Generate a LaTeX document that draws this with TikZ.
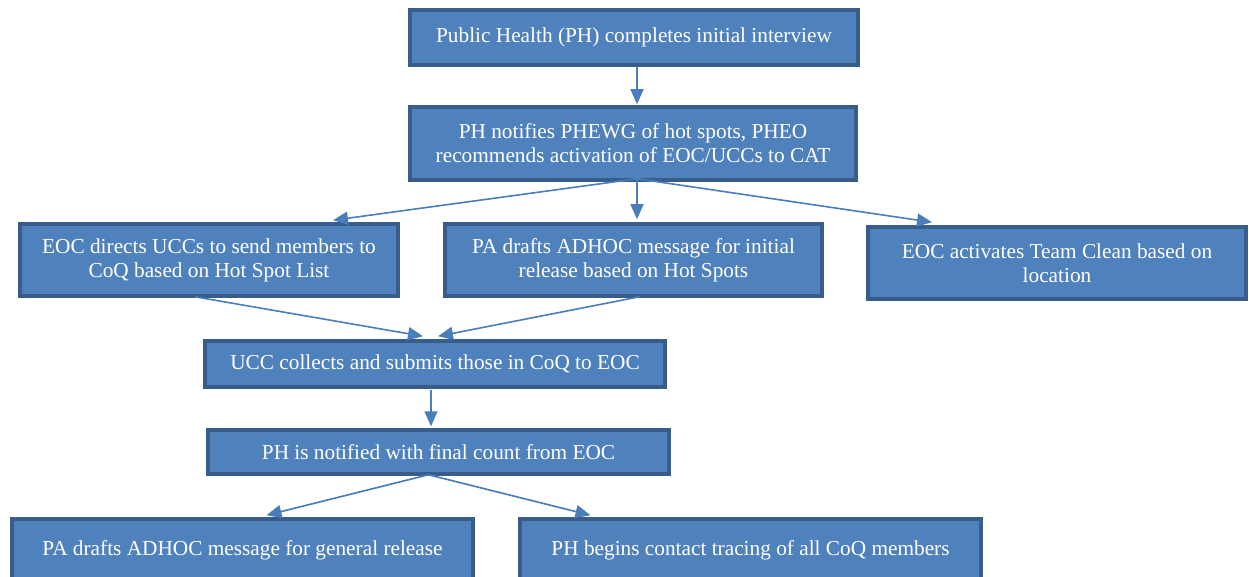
\documentclass[tikz,border=0pt]{standalone}
\usepackage{fontspec}
\setmainfont{Liberation Serif}
\usetikzlibrary{arrows.meta,calc}
\definecolor{boxfill}{HTML}{4F81BD}
\definecolor{boxline}{HTML}{385D8A}
\definecolor{arrowc}{HTML}{4A7EBB}
\tikzset{
  flowbox/.style={rectangle, draw=boxline, fill=boxfill, line width=3.5pt,
    text=white, inner sep=0pt, align=center, anchor=center,
    font=\fontsize{21.3}{24}\selectfont},
  arr/.style={draw=arrowc, line width=1.6pt, -{Triangle[length=15pt,width=13pt]}}
}
\begin{document}
\begin{tikzpicture}[x=1pt,y=-1pt]
\useasboundingbox (0,0) rectangle (1249,577);
\node[flowbox, minimum width=448pt, minimum height=55pt] (A) at (634,37.5) {Public Health (PH) completes initial interview};
\node[flowbox, minimum width=446pt, minimum height=73pt] (B) at (633,143.5) {PH notifies PHEWG of hot spots, PHEO\\recommends activation of EOC/UCCs to CAT};
\node[flowbox, minimum width=378pt, minimum height=72pt] (C) at (209,260) {EOC directs UCCs to send members to\\CoQ based on Hot Spot List};
\node[flowbox, minimum width=377pt, minimum height=72pt] (D) at (633.5,260) {PA drafts ADHOC message for initial\\release based on Hot Spots};
\node[flowbox, minimum width=378pt, minimum height=72pt] (E) at (1057,263) {EOC activates Team Clean based on\\location};
\node[flowbox, minimum width=460pt, minimum height=46pt] (F) at (435,364) {UCC collects and submits those in CoQ to EOC};
\node[flowbox, minimum width=461pt, minimum height=44pt] (G) at (438.5,452) {PH is notified with final count from EOC};
\node[flowbox, minimum width=461pt, minimum height=62pt] (H) at (242.5,550) {PA drafts ADHOC message for general release};
\node[flowbox, minimum width=461pt, minimum height=62pt] (I) at (750.5,550) {PH begins contact tracing of all CoQ members};
\coordinate (Bs) at ($(B.south)+(4,-3)$);
\coordinate (Gs) at ($(G.south)+(-10,-1)$);
\draw[arr] ($(A.south)+(3,0)$) -- ($(B.north)+(4,-1)$);
\draw[arr] (Bs) -- ($(C.north)+(124,-2)$);
\draw[arr] (Bs) -- ($(D.north)+(3.5,-3)$);
\draw[arr] (Bs) -- ($(E.north)+(-125,-3)$);
\draw[arr] ($(C.south)+(-14,-1)$) -- ($(F.north)+(-12,-3)$);
\draw[arr] ($(D.south)+(6,-1)$) -- ($(F.north)+(3,-3)$);
\draw[arr] ($(F.south)+(-4,1)$) -- ($(G.north)+(-7.5,-2)$);
\draw[arr] (Gs) -- ($(H.north)+(24,-2)$);
\draw[arr] (Gs) -- ($(I.north)+(-160,-2)$);
\end{tikzpicture}
\end{document}
